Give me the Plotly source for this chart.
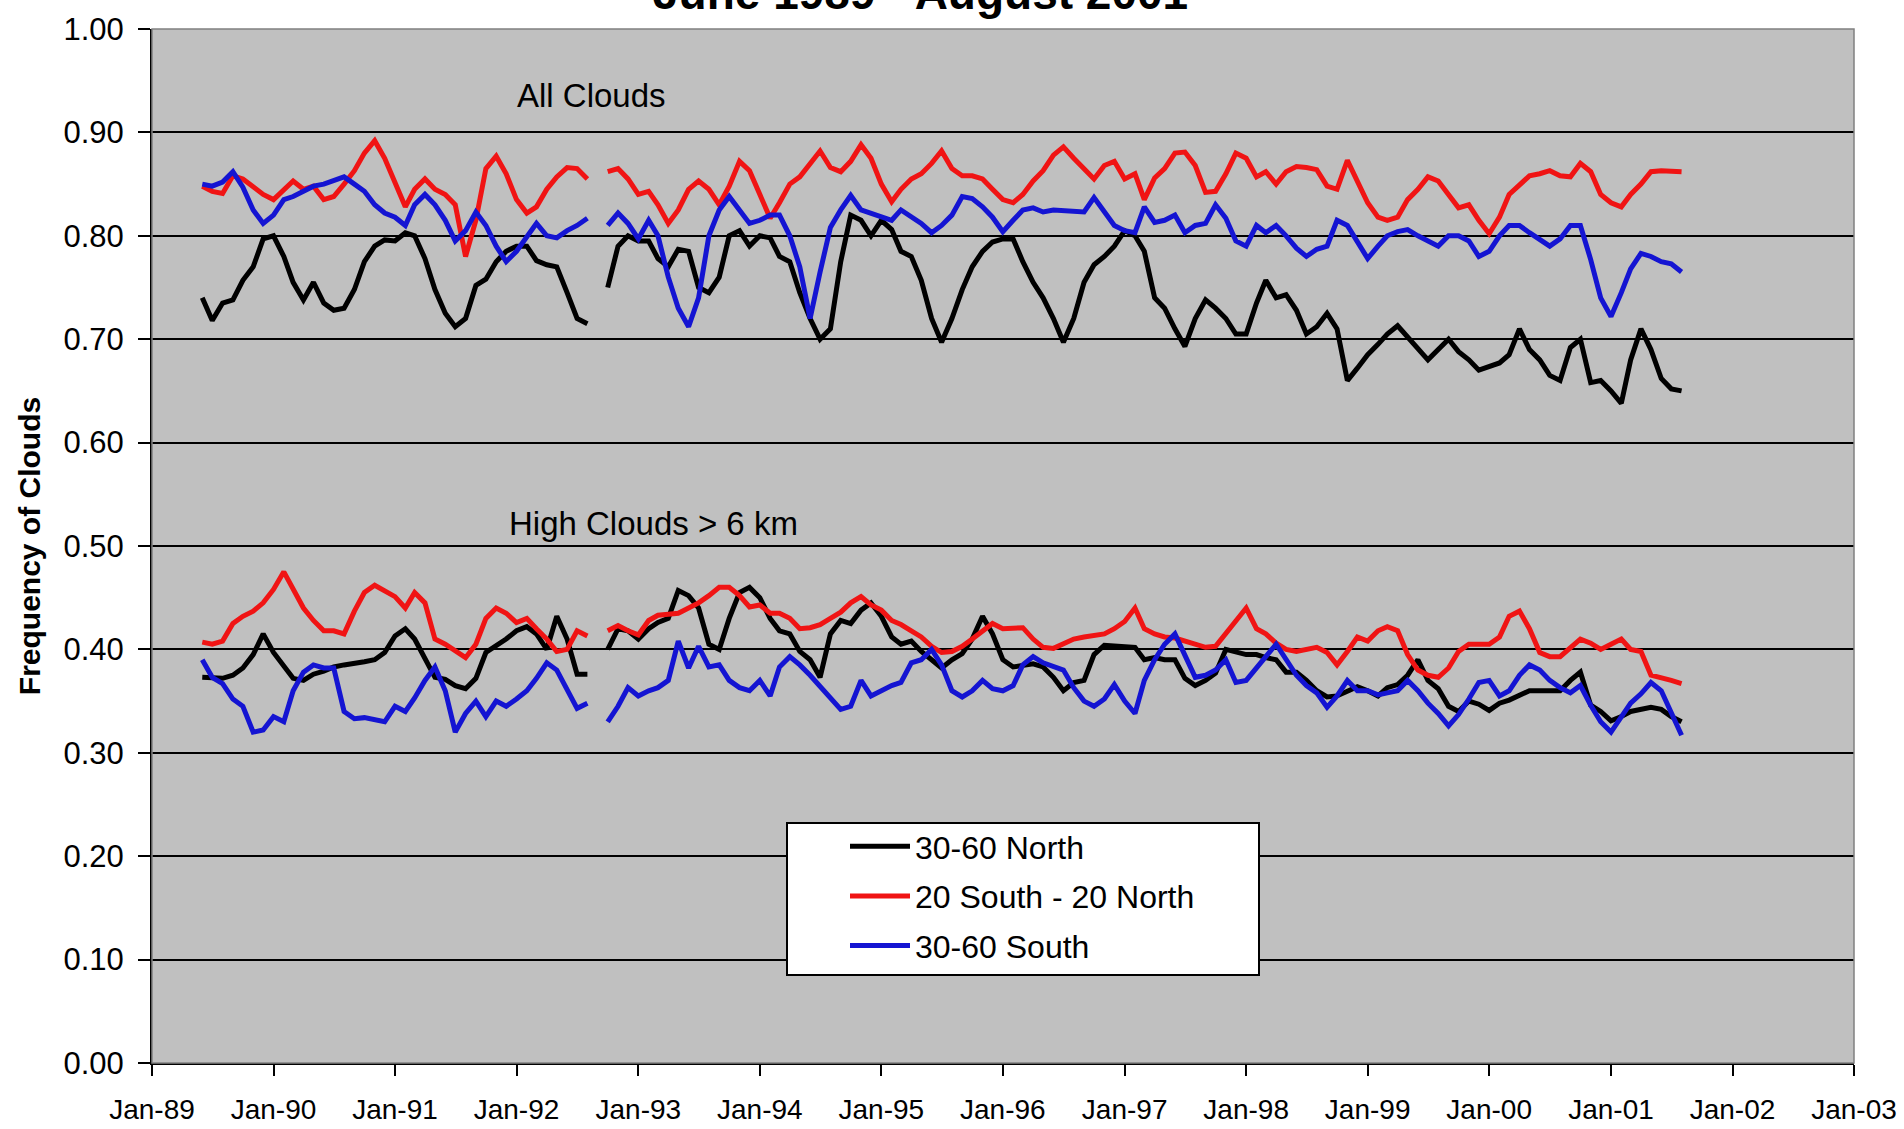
import pandas as pd
import plotly.graph_objects as go

# Monthly dates, June 1989 - August 2001 (September 1992 missing)
months = pd.date_range("1989-06-01", "2001-08-01", freq="MS")

# ---- All clouds ----
north_all = (
    [0.740, 0.718, 0.735, 0.738, 0.757, 0.770, 0.797] +
    [0.800, 0.780, 0.755, 0.738, 0.755, 0.735, 0.728, 0.730, 0.748, 0.775, 0.790, 0.796] +
    [0.795, 0.803, 0.800, 0.778, 0.748, 0.725, 0.712, 0.720, 0.752, 0.758, 0.775, 0.785] +
    [0.790, 0.790, 0.776, 0.772, 0.770, 0.745, 0.720, 0.715, None, 0.750, 0.790, 0.800] +
    [0.795, 0.795, 0.778, 0.770, 0.787, 0.785, 0.750, 0.745, 0.760, 0.800, 0.805, 0.790] +
    [0.800, 0.798, 0.780, 0.775, 0.745, 0.720, 0.700, 0.710, 0.775, 0.820, 0.815, 0.800] +
    [0.815, 0.806, 0.785, 0.780, 0.757, 0.720, 0.697, 0.720, 0.748, 0.770, 0.785, 0.794] +
    [0.797, 0.797, 0.775, 0.755, 0.740, 0.720, 0.697, 0.720, 0.755, 0.772, 0.780, 0.790] +
    [0.805, 0.800, 0.785, 0.740, 0.730, 0.710, 0.693, 0.720, 0.738, 0.730, 0.720, 0.705] +
    [0.705, 0.735, 0.757, 0.740, 0.743, 0.728, 0.705, 0.712, 0.725, 0.710, 0.660, 0.672] +
    [0.685, 0.695, 0.705, 0.713, 0.702, 0.690, 0.680, 0.690, 0.700, 0.688, 0.680, 0.670] +
    [0.673, 0.677, 0.685, 0.710, 0.690, 0.680, 0.665, 0.660, 0.692, 0.700, 0.658, 0.660] +
    [0.650, 0.638, 0.680, 0.710, 0.690, 0.662, 0.652, 0.650]
)
tropics_all = (
    [0.848, 0.843, 0.841, 0.858, 0.855, 0.848, 0.840] +
    [0.835, 0.845, 0.853, 0.845, 0.848, 0.835, 0.838, 0.850, 0.863, 0.880, 0.892, 0.875] +
    [0.850, 0.828, 0.845, 0.855, 0.845, 0.840, 0.830, 0.780, 0.815, 0.865, 0.877, 0.860] +
    [0.835, 0.822, 0.828, 0.845, 0.857, 0.866, 0.865, 0.855, None, 0.862, 0.865, 0.855] +
    [0.840, 0.843, 0.830, 0.812, 0.825, 0.845, 0.853, 0.845, 0.830, 0.848, 0.872, 0.863] +
    [0.840, 0.817, 0.832, 0.850, 0.857, 0.870, 0.882, 0.866, 0.862, 0.872, 0.888, 0.875] +
    [0.850, 0.833, 0.845, 0.855, 0.860, 0.870, 0.882, 0.865, 0.858, 0.858, 0.855, 0.845] +
    [0.835, 0.832, 0.840, 0.853, 0.863, 0.878, 0.886, 0.875, 0.865, 0.855, 0.868, 0.872] +
    [0.855, 0.860, 0.835, 0.856, 0.865, 0.880, 0.881, 0.868, 0.842, 0.843, 0.860, 0.880] +
    [0.875, 0.857, 0.862, 0.850, 0.862, 0.867, 0.866, 0.864, 0.848, 0.845, 0.873, 0.852] +
    [0.832, 0.818, 0.815, 0.818, 0.835, 0.845, 0.857, 0.853, 0.840, 0.827, 0.830, 0.815] +
    [0.802, 0.818, 0.840, 0.850, 0.858, 0.860, 0.863, 0.858, 0.857, 0.870, 0.862, 0.840] +
    [0.832, 0.828, 0.840, 0.850, 0.862, 0.863, 0.862, 0.862]
)
south_all = (
    [0.850, 0.848, 0.852, 0.862, 0.847, 0.825, 0.812] +
    [0.820, 0.835, 0.838, 0.843, 0.848, 0.850, 0.853, 0.857, 0.850, 0.843, 0.830, 0.822] +
    [0.818, 0.810, 0.830, 0.840, 0.830, 0.815, 0.795, 0.805, 0.823, 0.810, 0.790, 0.775] +
    [0.785, 0.800, 0.812, 0.800, 0.798, 0.805, 0.810, 0.817, None, 0.810, 0.822, 0.812] +
    [0.797, 0.815, 0.800, 0.760, 0.730, 0.712, 0.740, 0.800, 0.825, 0.838, 0.825, 0.812] +
    [0.815, 0.820, 0.820, 0.800, 0.770, 0.720, 0.765, 0.808, 0.825, 0.839, 0.825, 0.822] +
    [0.818, 0.815, 0.825, 0.818, 0.812, 0.803, 0.810, 0.820, 0.838, 0.836, 0.828, 0.818] +
    [0.804, 0.815, 0.825, 0.827, 0.823, 0.825, 0.824, 0.824, 0.823, 0.837, 0.823, 0.810] +
    [0.805, 0.803, 0.828, 0.813, 0.815, 0.820, 0.803, 0.810, 0.812, 0.830, 0.817, 0.795] +
    [0.790, 0.810, 0.803, 0.810, 0.800, 0.788, 0.780, 0.787, 0.790, 0.815, 0.810, 0.795] +
    [0.778, 0.790, 0.800, 0.804, 0.806, 0.800, 0.795, 0.790, 0.800, 0.800, 0.795, 0.780] +
    [0.785, 0.800, 0.810, 0.810, 0.803, 0.797, 0.790, 0.797, 0.810, 0.810, 0.777, 0.740] +
    [0.722, 0.745, 0.768, 0.783, 0.780, 0.775, 0.773, 0.765]
)

# ---- High clouds > 6 km ----
north_high = (
    [0.373, 0.373, 0.372, 0.375, 0.382, 0.395, 0.415] +
    [0.397, 0.383, 0.372, 0.370, 0.376, 0.379, 0.383, 0.385, 0.386, 0.388, 0.390, 0.397] +
    [0.413, 0.420, 0.410, 0.392, 0.373, 0.371, 0.365, 0.362, 0.372, 0.397, 0.403, 0.410] +
    [0.418, 0.422, 0.415, 0.400, 0.432, 0.410, 0.376, 0.376, None, 0.400, 0.420, 0.418] +
    [0.410, 0.420, 0.426, 0.430, 0.457, 0.452, 0.440, 0.405, 0.400, 0.430, 0.455, 0.460] +
    [0.450, 0.430, 0.418, 0.415, 0.398, 0.390, 0.373, 0.415, 0.428, 0.425, 0.438, 0.445] +
    [0.432, 0.412, 0.405, 0.408, 0.398, 0.390, 0.382, 0.390, 0.396, 0.410, 0.432, 0.415] +
    [0.390, 0.383, 0.385, 0.386, 0.383, 0.373, 0.360, 0.368, 0.370, 0.395, 0.404, 0.403] +
    [0.402, 0.402, 0.390, 0.392, 0.390, 0.390, 0.372, 0.365, 0.370, 0.377, 0.400, 0.397] +
    [0.395, 0.395, 0.392, 0.390, 0.378, 0.378, 0.370, 0.360, 0.354, 0.355, 0.360, 0.364] +
    [0.360, 0.355, 0.363, 0.366, 0.375, 0.390, 0.370, 0.362, 0.345, 0.340, 0.350, 0.347] +
    [0.341, 0.348, 0.351, 0.356, 0.360, 0.360, 0.360, 0.360, 0.370, 0.378, 0.346, 0.340] +
    [0.331, 0.335, 0.340, 0.342, 0.344, 0.342, 0.335, 0.330]
)
tropics_high = (
    [0.407, 0.405, 0.408, 0.425, 0.432, 0.437, 0.445] +
    [0.458, 0.475, 0.458, 0.440, 0.428, 0.418, 0.418, 0.415, 0.437, 0.455, 0.462, 0.457] +
    [0.451, 0.440, 0.455, 0.445, 0.410, 0.405, 0.398, 0.392, 0.405, 0.430, 0.440, 0.435] +
    [0.426, 0.430, 0.420, 0.410, 0.398, 0.400, 0.418, 0.413, None, 0.418, 0.423, 0.418] +
    [0.414, 0.428, 0.433, 0.434, 0.435, 0.440, 0.445, 0.452, 0.460, 0.460, 0.452, 0.441] +
    [0.443, 0.435, 0.435, 0.430, 0.420, 0.421, 0.424, 0.430, 0.436, 0.445, 0.451, 0.443] +
    [0.438, 0.428, 0.424, 0.418, 0.412, 0.403, 0.397, 0.398, 0.403, 0.410, 0.418, 0.425] +
    [0.420, 0.421, 0.421, 0.410, 0.402, 0.401, 0.406, 0.410, 0.412, 0.413, 0.415, 0.420] +
    [0.427, 0.440, 0.420, 0.415, 0.412, 0.411, 0.408, 0.405, 0.402, 0.403, 0.415, 0.428] +
    [0.440, 0.420, 0.415, 0.406, 0.400, 0.398, 0.400, 0.402, 0.397, 0.385, 0.398, 0.412] +
    [0.408, 0.418, 0.422, 0.418, 0.395, 0.380, 0.375, 0.373, 0.382, 0.398, 0.405, 0.405] +
    [0.405, 0.412, 0.432, 0.437, 0.420, 0.397, 0.393, 0.393, 0.402, 0.410, 0.406, 0.400] +
    [0.405, 0.410, 0.400, 0.398, 0.375, 0.373, 0.370, 0.367]
)
south_high = (
    [0.390, 0.373, 0.367, 0.352, 0.345, 0.320, 0.322] +
    [0.335, 0.330, 0.360, 0.378, 0.385, 0.382, 0.382, 0.340, 0.333, 0.334, 0.332, 0.330] +
    [0.345, 0.340, 0.353, 0.370, 0.383, 0.360, 0.320, 0.338, 0.350, 0.335, 0.350, 0.345] +
    [0.352, 0.360, 0.372, 0.387, 0.380, 0.360, 0.343, 0.348, None, 0.330, 0.345, 0.363] +
    [0.355, 0.360, 0.363, 0.370, 0.408, 0.382, 0.403, 0.383, 0.385, 0.370, 0.363, 0.360] +
    [0.370, 0.355, 0.383, 0.393, 0.385, 0.375, 0.364, 0.352, 0.342, 0.345, 0.370, 0.355] +
    [0.360, 0.365, 0.368, 0.387, 0.390, 0.400, 0.385, 0.360, 0.354, 0.360, 0.370, 0.362] +
    [0.360, 0.365, 0.385, 0.393, 0.387, 0.383, 0.380, 0.363, 0.350, 0.345, 0.352, 0.366] +
    [0.350, 0.338, 0.370, 0.390, 0.405, 0.415, 0.395, 0.373, 0.375, 0.380, 0.390, 0.368] +
    [0.370, 0.383, 0.393, 0.405, 0.390, 0.375, 0.365, 0.358, 0.344, 0.355, 0.370, 0.360] +
    [0.360, 0.356, 0.358, 0.360, 0.370, 0.360, 0.348, 0.338, 0.326, 0.337, 0.352, 0.368] +
    [0.370, 0.355, 0.360, 0.375, 0.385, 0.380, 0.370, 0.363, 0.358, 0.365, 0.346, 0.330] +
    [0.320, 0.335, 0.348, 0.357, 0.368, 0.360, 0.340, 0.317]
)

series_names = ["30-60 North", "20 South - 20 North", "30-60 South"]
series_colors = ["#000000", "#F01414", "#1414D2"]
all_clouds = [north_all, tropics_all, south_all]
high_clouds = [north_high, tropics_high, south_high]

x_tick_dates = pd.date_range("1989-01-01", "2003-01-01", freq="YS")
y_ticks = [round(i * 0.1, 1) for i in range(11)]

FONT = "Liberation Sans, Arial, sans-serif"
LINE_W = 5

fig = go.Figure()
for name, color, ya in zip(series_names, series_colors, all_clouds):
    fig.add_trace(go.Scatter(x=months, y=ya, mode="lines", name=name,
                             line=dict(color=color, width=LINE_W),
                             legendgroup=name, showlegend=True,
                             connectgaps=False))
for name, color, yh in zip(series_names, series_colors, high_clouds):
    fig.add_trace(go.Scatter(x=months, y=yh, mode="lines", name=name,
                             line=dict(color=color, width=LINE_W),
                             legendgroup=name, showlegend=False,
                             connectgaps=False))

L, R, T, B = 152, 50, 29, 66
W, H = 1904, 1129
pw, ph = W - L - R, H - T - B

def px_x(px):
    return (px - L) / pw

def px_y(py):
    return (H - B - py) / ph

fig.update_layout(
    width=W, height=H,
    margin=dict(l=L, r=R, t=T, b=B, autoexpand=False),
    paper_bgcolor="white",
    plot_bgcolor="#C0C0C0",
    font=dict(family=FONT, color="black"),
    legend=dict(
        x=px_x(845), y=px_y(819), xanchor="left", yanchor="top",
        bgcolor="rgba(0,0,0,0)", borderwidth=0,
        font=dict(size=32, family=FONT, color="black"),
        itemwidth=60, tracegroupgap=5,
    ),
    xaxis=dict(
        type="date",
        range=["1989-01-01", "2003-01-01"],
        tickvals=list(x_tick_dates),
        tickformat="%b-%y",
        showgrid=False, zeroline=False,
        showline=True, linecolor="black", linewidth=2,
        ticks="outside", ticklen=11, tickwidth=1.5, tickcolor="black",
        tickfont=dict(size=28, family=FONT, color="black"),
        ticklabelstandoff=9,
    ),
    yaxis=dict(
        range=[0, 1],
        tickvals=y_ticks,
        tickformat=".2f",
        showgrid=True, gridcolor="black", gridwidth=1.5,
        zeroline=False,
        showline=True, linecolor="black", linewidth=2,
        ticks="outside", ticklen=12, tickwidth=1.5, tickcolor="black",
        tickfont=dict(size=31, family=FONT, color="black"),
        ticklabelstandoff=8,
        title=dict(text="<b>Frequency of Clouds</b>",
                   font=dict(size=30, family=FONT, color="black"),
                   standoff=14),
    ),
    shapes=[
        dict(type="rect", xref="paper", yref="paper", x0=0, x1=1, y0=0, y1=1,
             line=dict(color="#808080", width=1.5), layer="above"),
        # legend frame
        dict(type="rect", xref="paper", yref="paper",
             x0=px_x(787), x1=px_x(1259), y0=px_y(975), y1=px_y(823),
             fillcolor="white", line=dict(color="black", width=2), layer="above"),
    ],
    annotations=[
        dict(text="<b>June 1989 - August 2001</b>", xref="paper", yref="paper",
             x=px_x(920), y=px_y(21), xanchor="center", yanchor="bottom",
             showarrow=False, font=dict(size=46, family=FONT, color="black")),
        dict(text="All Clouds", xref="paper", yref="paper",
             x=px_x(591), y=px_y(96), xanchor="center", yanchor="middle",
             showarrow=False, font=dict(size=33, family=FONT, color="black")),
        dict(text="High Clouds > 6 km", xref="paper", yref="paper",
             x=px_x(653), y=px_y(523), xanchor="center", yanchor="middle",
             showarrow=False, font=dict(size=33, family=FONT, color="black")),
    ],
)

fig.write_html("out.html")
